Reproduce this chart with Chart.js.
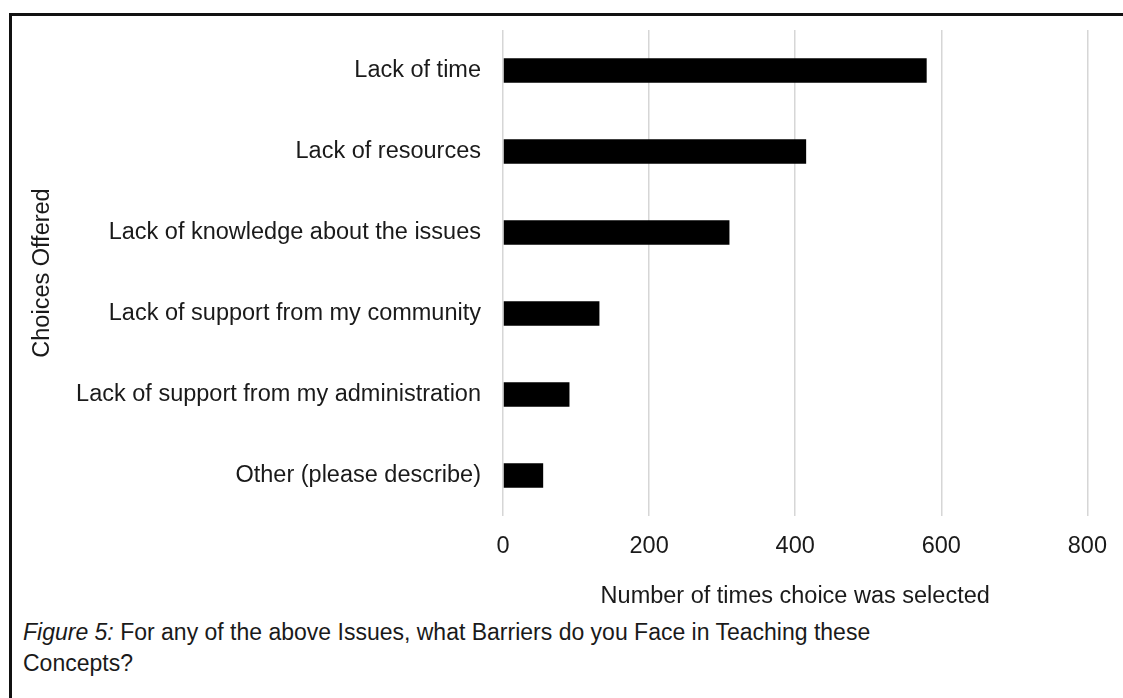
<!DOCTYPE html>
<html>
<head>
<meta charset="utf-8">
<script src="https://cdn.jsdelivr.net/npm/chart.js@4"></script>
<style>
  html, body { margin: 0; padding: 0; background: #fff; }
  body { width: 1123px; height: 698px; position: relative; overflow: hidden; font-family: "Liberation Sans", Arial, sans-serif; }
  .frame { position: absolute; left: 9px; top: 13px; right: -10px; bottom: -10px; border-top: 3px solid #111; border-left: 3px solid #111; }
  #wrap { position: absolute; left: 0; top: 0; width: 1123px; height: 616px; }
  .caption { position: absolute; left: 23px; top: 617px; font-size: 23px; line-height: 31px; color: #1a1a1a; }
</style>
</head>
<body>
<div class="frame"></div>
<div id="wrap"><canvas id="barriers"></canvas></div>
<div class="caption"><i>Figure 5:</i> For any of the above Issues, what Barriers do you Face in Teaching these<br>Concepts?</div>
<script>
const choices = [
  'Lack of time',
  'Lack of resources',
  'Lack of knowledge about the issues',
  'Lack of support from my community',
  'Lack of support from my administration',
  'Other (please describe)'
];
const timesSelected = [580, 415, 310, 132, 91, 55];
const xTicks = [0, 200, 400, 600, 800];

const textColor = '#1a1a1a';
const font = { family: '"Liberation Sans", Arial, sans-serif', size: 23.5 };

new Chart(document.getElementById('barriers'), {
  type: 'bar',
  data: {
    labels: choices,
    datasets: [{
      data: timesSelected,
      backgroundColor: '#000',
      barPercentage: 0.3,
      categoryPercentage: 1
    }]
  },
  options: {
    indexAxis: 'y',
    responsive: true,
    maintainAspectRatio: false,
    animation: false,
    layout: { padding: { top: 30, right: 31, bottom: 0, left: 0 } },
    plugins: { legend: { display: false }, tooltip: { enabled: false } },
    scales: {
      x: {
        min: xTicks[0],
        max: xTicks[xTicks.length - 1],
        afterBuildTicks: (axis) => { axis.ticks = xTicks.map(v => ({ value: v })); },
        grid: { color: '#d6d6d6', lineWidth: 1.5, drawTicks: false },
        border: { display: false },
        ticks: { color: textColor, font: font, padding: 16, maxRotation: 0 },
        title: {
          display: true,
          text: 'Number of times choice was selected',
          color: textColor,
          font: font,
          padding: { top: 0, bottom: 5 }
        },
        afterFit: (axis) => { axis.height = 100; }
      },
      y: {
        grid: { display: false, drawTicks: false },
        border: { display: false },
        ticks: { color: textColor, font: font, padding: 22 },
        title: {
          display: true,
          text: 'Choices Offered',
          color: textColor,
          font: font,
          padding: { top: 28, bottom: 0 }
        },
        afterFit: (axis) => {
          axis.width = 503;
          // keep the plot top at the layout padding, not label height + tick padding
          axis.paddingTop = 0;
          axis.paddingBottom = 0;
        }
      }
    }
  }
});
</script>
</body>
</html>
